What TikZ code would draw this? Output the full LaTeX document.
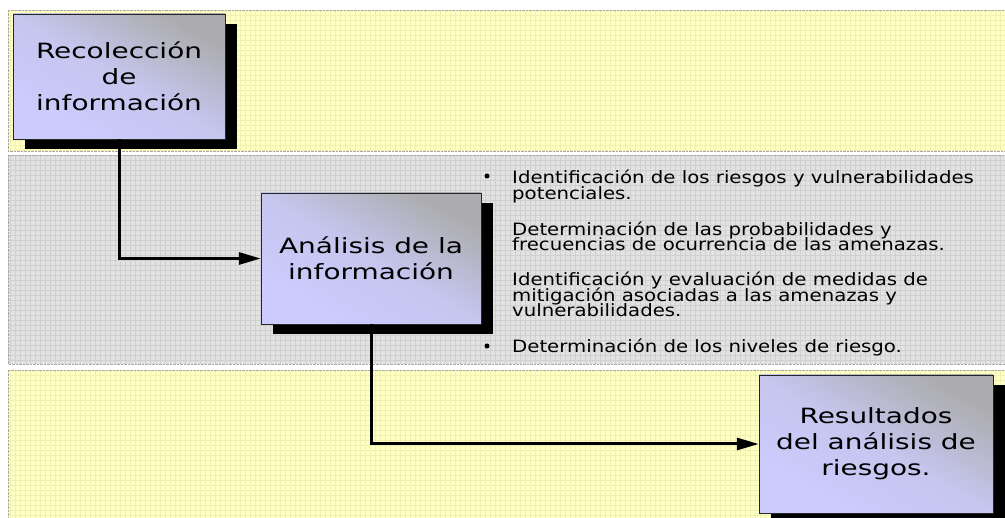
\documentclass[tikz,border=0pt]{standalone}
\usepackage{fontspec}
\setmainfont{DejaVu Sans}
\newfontfamily\boxfont[FakeStretch=1.33]{DejaVu Sans}
\newfontfamily\listfont[FakeStretch=1.16]{DejaVu Sans}
\newcommand\listsize{\fontsize{17}{15.5}\selectfont\lineskiplimit=-20pt\relax\lineskip=0pt\relax}
\usetikzlibrary{arrows.meta,shadows}

\definecolor{bandyellow}{RGB}{255,255,196}
\definecolor{gridyellow}{RGB}{240,240,175}
\definecolor{bandgray}{RGB}{226,226,226}
\definecolor{gridgray}{RGB}{208,208,208}
\definecolor{boxlav}{RGB}{204,204,255}
\definecolor{boxgray}{RGB}{172,172,174}

\tikzset{
  stagebox/.style={draw=black!85, thin, top color=boxgray, bottom color=boxlav, middle color=boxlav!80!boxgray,
    shading angle=-30, align=center, font=\boxfont\fontsize{21}{26}\selectfont,
    drop shadow={shadow xshift=12pt, shadow yshift=-10pt, opacity=1, fill=black}},
  flow/.style={line width=3pt, -{Triangle[length=22pt,width=12pt]}},
  itemtext/.style={anchor=base west, align=left, inner sep=0pt, font=\listfont\listsize},
  bullet/.style={circle, fill=black, inner sep=0pt, minimum size=5pt},
}

\begin{document}
\begin{tikzpicture}[x=1pt,y=-1pt]
        \useasboundingbox (0,0) rectangle (1005,518);

        % bands
        \fill[bandyellow] (8,10) rectangle (1005,151);
        \draw[gridyellow,step=5pt,very thin] (8,10) grid (1005,151);
        \draw[gray!70,densely dotted] (1005,10) -- (8,10) -- (8,151) -- (1005,151);

        \fill[bandgray] (8,155) rectangle (1005,364);
        \draw[gridgray,step=5pt,very thin] (8,155) grid (1005,364);
        \draw[gray!70,densely dotted] (1005,155) -- (8,155) -- (8,364) -- (1005,364);

        \fill[bandyellow] (8,370) rectangle (1005,518);
        \draw[gridyellow,step=5pt,very thin] (8,370) grid (1005,518);
        \draw[gray!70,densely dotted] (1005,370) -- (8,370) -- (8,518);

        % stages
        \node[stagebox,minimum width=212pt,minimum height=125pt] (rec) at (119,76.5) {Recolección\\de\\información};
        \node[stagebox,minimum width=220pt,minimum height=131pt] (ana) at (371,258.5) {Análisis de la\\información};
        \node[stagebox,minimum width=234pt,minimum height=138pt] (res) at (876,444) {Resultados\\del análisis de\\riesgos.};

        \draw[flow] (rec.south) |- (ana.west);
        \draw[flow] (ana.south) |- (res.west);

        % list
        \node[bullet] (dot1) at (487,176) {};
        \node[itemtext] (item1) at (512,199.3) {Identificación de los riesgos y vulnerabilidades\\potenciales.};
        \node[itemtext] (item2) at (512,250.7) {Determinación de las probabilidades y\\frecuencias de ocurrencia de las amenazas.};
        \node[itemtext] (item3) at (512,316.7) {Identificación y evaluación de medidas de\\mitigación asociadas a las amenazas y\\vulnerabilidades.};
        \node[bullet] (dot4) at (487,346) {};
        \node[itemtext] (item4) at (512,353) {Determinación de los niveles de riesgo.};
    \end{tikzpicture}
\end{document}
